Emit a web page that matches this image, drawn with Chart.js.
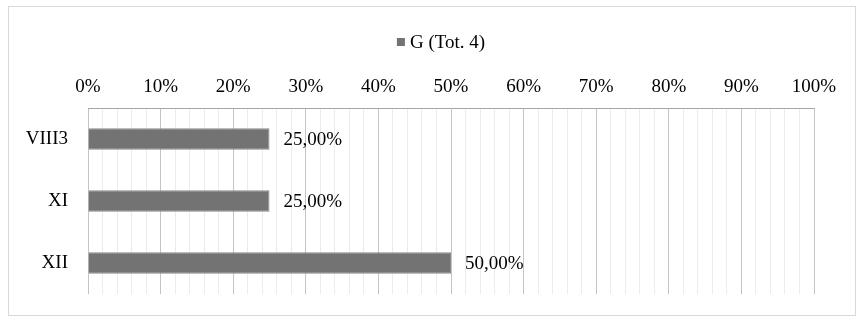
<!DOCTYPE html>
<html>
<head>
<meta charset="utf-8">
<script src="https://cdn.jsdelivr.net/npm/chart.js@4"></script>
<style>
  html, body { margin: 0; padding: 0; background: #fff; }
  #wrap { width: 857px; height: 320px; position: relative; }
</style>
</head>
<body>
<div id="wrap"><canvas id="chart" width="857" height="320"></canvas></div>
<script>
// datos del gráfico
const categorias = ['VIII3', 'XI', 'XII'];
const valores = [25, 25, 50];
const serieNombre = 'G (Tot. 4)';
const ticksX = [0, 10, 20, 30, 40, 50, 60, 70, 80, 90, 100];

const fuente = '"Liberation Serif", "Times New Roman", serif';
const colorBarra = '#737373';

// marco exterior del gráfico
const marco = {
    id: 'marco',
    beforeDraw(chart) {
        const c = chart.ctx;
        c.save();
        c.strokeStyle = '#d9d9d9';
        c.lineWidth = 1;
        c.strokeRect(8.5, 6.5, 847, 309);
        c.restore();
    }
};

// leyenda dibujada a mano para poder centrarla
const leyenda = {
    id: 'leyenda',
    afterDraw(chart) {
        const c = chart.ctx;
        c.save();
        c.font = '19px ' + fuente;
        const w = c.measureText(serieNombre).width;
        const total = 8 + 5 + w;
        const x0 = 441 - total / 2;
        const y = 42;
        c.fillStyle = colorBarra;
        c.fillRect(x0, y - 4, 8, 8);
        c.fillStyle = '#000';
        c.textBaseline = 'middle';
        c.textAlign = 'left';
        c.fillText(serieNombre, x0 + 13, y + 1);
        c.restore();
    }
};

// etiquetas de valor al final de cada barra
const etiquetas = {
    id: 'etiquetas',
    afterDatasetsDraw(chart) {
        const c = chart.ctx;
        const meta = chart.getDatasetMeta(0);
        c.save();
        c.font = '19px ' + fuente;
        c.fillStyle = '#000';
        c.textBaseline = 'middle';
        c.textAlign = 'left';
        meta.data.forEach((bar, i) => {
            const txt = valores[i].toFixed(2).replace('.', ',') + '%';
            c.fillText(txt, bar.x + 14, bar.y + 1);
        });
        c.restore();
    }
};

const ctx = document.getElementById('chart').getContext('2d');
new Chart(ctx, {
    type: 'bar',
    data: {
        labels: categorias,
        datasets: [{
            label: serieNombre,
            data: valores,
            backgroundColor: colorBarra,
            borderColor: '#8a8a8a',
            borderWidth: 1,
            barPercentage: 0.35,
            categoryPercentage: 1
        }]
    },
    options: {
        indexAxis: 'y',
        responsive: false,
        animation: false,
        layout: { padding: { left: 10, right: 43, top: 50, bottom: 26 } },
        plugins: {
            legend: { display: false },
            tooltip: { enabled: false }
        },
        scales: {
            x: {
                position: 'top',
                min: 0,
                max: 100,
                afterBuildTicks(scale) {
                    const t = [];
                    for (let v = 0; v <= 100; v += 2) t.push({ value: v });
                    scale.ticks = t;
                },
                afterFit(scale) { scale.height = 58; },
                ticks: {
                    autoSkip: false,
                    maxRotation: 0,
                    padding: 10,
                    color: '#000',
                    font: { family: fuente, size: 19 },
                    callback: (v) => ticksX.includes(v) ? v + '%' : ''
                },
                grid: {
                    drawTicks: false,
                    color: (c) => (c.tick && c.tick.value % 10 === 0) ? '#c4c4c4' : '#ececec',
                    lineWidth: 1
                },
                border: { display: true, color: '#a6a6a6' }
            },
            y: {
                afterFit(scale) {
                    scale.width = 78;
                    scale.paddingTop = 0;
                    scale.paddingBottom = 0;
                },
                ticks: {
                    padding: 20,
                    color: '#000',
                    font: { family: fuente, size: 19 }
                },
                grid: { display: false, drawTicks: false },
                border: { display: false }
            }
        }
    },
    plugins: [marco, leyenda, etiquetas]
});
</script>
</body>
</html>
